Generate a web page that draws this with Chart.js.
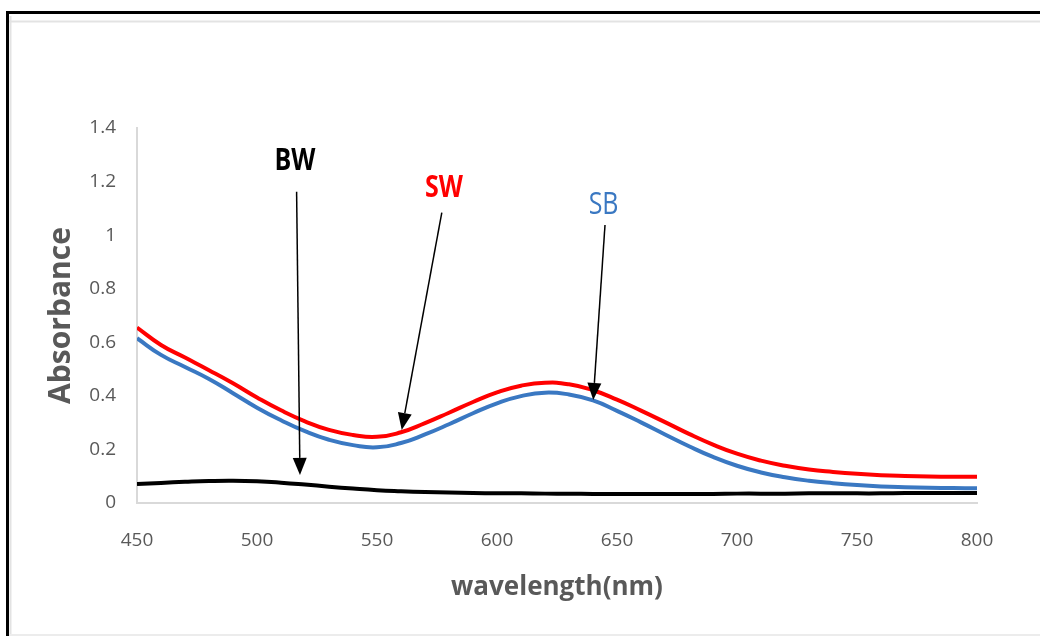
<!DOCTYPE html>
<html>
<head>
<meta charset="utf-8">
<script src="https://cdn.jsdelivr.net/npm/chart.js@4/dist/chart.umd.min.js"></script>
<style>
  html, body { margin: 0; padding: 0; background: #fff; }
  #wrap { position: absolute; left: 0; top: 0; width: 1040px; height: 636px; }
</style>
</head>
<body>
<div id="wrap"><canvas id="c" width="1040" height="636"></canvas></div>
<script>
// ---- data ----
const wavelengths = [450,460,470,480,490,500,510,520,530,540,550,560,570,580,590,600,610,620,630,640,650,660,670,680,690,700,710,720,730,740,750,760,770,780,790,800];
const swValues = [0.655,0.590,0.543,0.496,0.447,0.394,0.346,0.305,0.273,0.254,0.247,0.264,0.298,0.337,0.377,0.413,0.438,0.449,0.443,0.421,0.386,0.345,0.302,0.258,0.218,0.184,0.158,0.139,0.125,0.116,0.109,0.104,0.101,0.099,0.098,0.098];
const sbValues = [0.615,0.553,0.508,0.463,0.410,0.356,0.309,0.268,0.236,0.216,0.208,0.224,0.256,0.294,0.335,0.372,0.399,0.412,0.405,0.383,0.344,0.301,0.256,0.212,0.172,0.139,0.114,0.096,0.083,0.074,0.067,0.062,0.059,0.057,0.056,0.055];
const bwValues = [0.071,0.075,0.079,0.082,0.083,0.081,0.076,0.069,0.061,0.054,0.048,0.044,0.041,0.039,0.037,0.036,0.036,0.035,0.035,0.034,0.034,0.034,0.034,0.034,0.034,0.035,0.035,0.035,0.036,0.036,0.036,0.036,0.037,0.037,0.037,0.037];
const seriesNames = ['SW','SB','BW'];
const xTickValues = [450,500,550,600,650,700,750,800];
const yTickValues = [0,0.2,0.4,0.6,0.8,1,1.2,1.4];
// annotation labels and arrows, in data units
const annotLabels = [
  {text:'BW', x:515.8, y:1.274, color:'#000000', bold:true},
  {text:'SW', x:577.9, y:1.176, color:'#ff0000', bold:true},
  {text:'SB', x:644.4, y:1.112, color:'#3a78c2', bold:false}
];
const annotArrows = [
  {x0:516.5, y0:1.162, x1:517.9, y1:0.105},
  {x0:577.0, y0:1.084, x1:560.3, y1:0.273},
  {x0:645.0, y0:1.038, x1:640.1, y1:0.385}
];

const toXY = vals => wavelengths.map((w,i) => ({x:w, y:vals[i]}));

const framePlugin = {
  id: 'frame',
  beforeDraw(chart) {
    const ctx = chart.ctx;
    ctx.save();
    ctx.fillStyle = '#ffffff';
    ctx.fillRect(0,0,chart.width,chart.height);
    ctx.strokeStyle = '#e3e3e3';
    ctx.lineWidth = 2;
    ctx.beginPath(); ctx.moveTo(9,21.5); ctx.lineTo(1040,21.5); ctx.stroke();
    ctx.beginPath(); ctx.moveTo(10.5,16); ctx.lineTo(10.5,636); ctx.stroke();
    ctx.strokeStyle = '#ececec';
    ctx.beginPath(); ctx.moveTo(9,635); ctx.lineTo(1040,635); ctx.stroke();
    ctx.fillStyle = '#000000';
    ctx.fillRect(6,11,1034,3);
    ctx.fillRect(6,11,3,625);
    ctx.restore();
  }
};

const annotPlugin = {
  id: 'annot',
  afterDatasetsDraw(chart) {
    const ctx = chart.ctx;
    const xs = chart.scales.x, ys = chart.scales.y;
    ctx.save();
    annotArrows.forEach(a => {
      const x0 = xs.getPixelForValue(a.x0), y0 = ys.getPixelForValue(a.y0);
      const x1 = xs.getPixelForValue(a.x1), y1 = ys.getPixelForValue(a.y1);
      const ang = Math.atan2(y1-y0, x1-x0);
      const hl = 17, hw = 7;
      const bx = x1 - hl*Math.cos(ang), by = y1 - hl*Math.sin(ang);
      ctx.strokeStyle = '#000';
      ctx.lineWidth = 1.5;
      ctx.beginPath(); ctx.moveTo(x0,y0); ctx.lineTo(bx,by); ctx.stroke();
      ctx.fillStyle = '#000';
      ctx.beginPath();
      ctx.moveTo(x1,y1);
      ctx.lineTo(bx + hw*Math.sin(ang), by - hw*Math.cos(ang));
      ctx.lineTo(bx - hw*Math.sin(ang), by + hw*Math.cos(ang));
      ctx.closePath(); ctx.fill();
    });
    annotLabels.forEach(l => {
      const px = xs.getPixelForValue(l.x), py = ys.getPixelForValue(l.y);
      ctx.save();
      ctx.translate(px, py);
      ctx.scale(1, 1.22);
      ctx.font = (l.bold ? 'bold ' : '') + '25px "Open Sans"';
      ctx.fillStyle = l.color;
      ctx.textAlign = 'center';
      ctx.textBaseline = 'middle';
      ctx.fillText(l.text, 0, 0);
      ctx.restore();
    });
    ctx.restore();
  }
};

const colors = ['#ff0000','#3a78c2','#000000'];
const valueSets = [swValues, sbValues, bwValues];

new Chart(document.getElementById('c'), {
  type: 'line',
  data: {
    datasets: seriesNames.map((n,i) => ({
      label: n,
      data: toXY(valueSets[i]),
      borderColor: colors[i],
      backgroundColor: colors[i],
      borderWidth: 4,
      pointRadius: 0,
      tension: 0.5,
      fill: false
    }))
  },
  options: {
    responsive: false,
    devicePixelRatio: 1,
    animation: false,
    layout: { padding: { top: 128, right: 63, left: 0, bottom: 0 } },
    plugins: { legend: { display: false }, tooltip: { enabled: false } },
    scales: {
      x: {
        type: 'linear', min: 450, max: 800,
        afterFit(s) { s.height = 133; },
        afterBuildTicks(s) { s.ticks = xTickValues.map(v => ({value: v})); },
        grid: { display: false, drawTicks: false },
        border: { display: true, color: '#d9d9d9', width: 2 },
        ticks: { padding: 26, color: '#595959', font: { family: '"Open Sans"', size: 19 } },
        title: { display: true, text: 'wavelength(nm)', color: '#595959',
                 font: { family: '"Open Sans"', size: 26, weight: 'bold' }, padding: { top: 0, bottom: 33 } }
      },
      y: {
        min: 0, max: 1.4,
        afterFit(s) { s.width = 137; },
        afterBuildTicks(s) { s.ticks = yTickValues.map(v => ({value: v})); },
        grid: { display: false, drawTicks: false },
        border: { display: true, color: '#d9d9d9', width: 2 },
        ticks: { padding: 21, color: '#595959', font: { family: '"Open Sans"', size: 19 },
                 callback: v => String(v) },
        title: { display: true, text: 'Absorbance', color: '#595959',
                 font: { family: '"Open Sans"', size: 30, weight: 'bold' }, padding: { top: 43, bottom: 0 } }
      }
    }
  },
  plugins: [framePlugin, annotPlugin]
});
</script>
</body>
</html>
